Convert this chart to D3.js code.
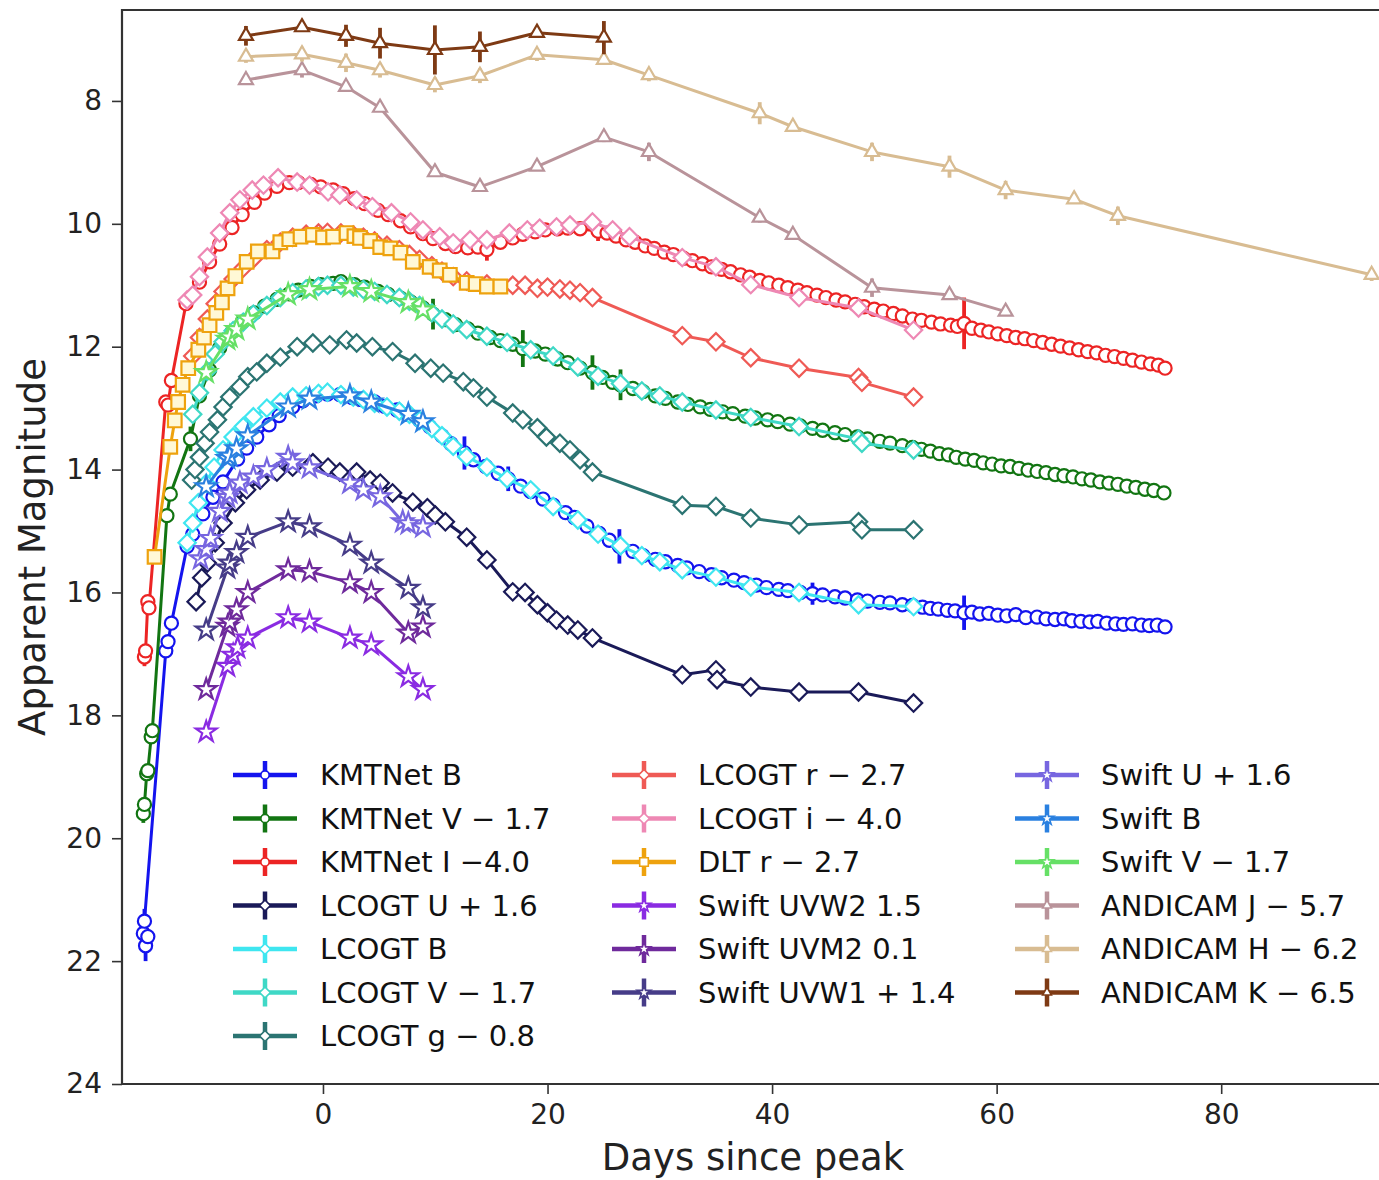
<!DOCTYPE html>
<html>
<head>
<meta charset="utf-8">
<script src="https://cdn.jsdelivr.net/npm/d3@7"></script>
<style>
  body { margin: 0; background: #fff; }
  svg { display: block; font-family: "DejaVu Sans", sans-serif; }
</style>
</head>
<body>
<svg id="chart" width="1379" height="1180"></svg>
<script>
// ---- data: [days since peak, apparent magnitude (shifted), error] ----
var kmtnetB = [[-16.0,21.55,0.12],[-15.8,21.75,0.25],[-15.6,21.6,0.1],[-15.9,21.35,0.2],
  [-14.0,16.95,0.06],[-13.8,16.8,0.05],[-13.5,16.5,0.05],
  [-12.1,15.25,0.05],[-11.6,15.05],[-10.7,14.72],[-9.8,14.45],[-8.9,14.2],[-7.6,13.83],[-6.8,13.65],[-5.9,13.47],[-4.8,13.27],[-3.9,13.12],[-2.7,12.98],[-1.8,12.88],[-0.6,12.8],[0.4,12.77],[1.5,12.78],[2.6,12.83],[3.4,12.86],[4.6,12.9],[5.5,12.97],[6.6,13.03],[7.5,13.1],[8.6,13.2],[9.5,13.3],[10.6,13.45],[11.4,13.58],[12.6,13.73,0.27],[13.4,13.84],[14.5,13.95],[15.6,14.06],[16.5,14.15,0.2],[17.6,14.27],[18.5,14.36],[19.6,14.48],[20.5,14.58],[21.6,14.7],[22.4,14.78],[23.5,14.92],[24.6,15.04],[25.5,15.15],[26.4,15.25,0.28],[27.6,15.33],[28.5,15.4],[29.6,15.46],[30.5,15.5],[31.6,15.56],[32.4,15.6],[33.5,15.66],[34.6,15.71],[35.5,15.76],[36.6,15.8],[37.5,15.84],[38.6,15.88],[39.5,15.92],[40.6,15.95],[41.4,15.97],[42.5,16.0],[43.6,16.02,0.18],[44.5,16.04],[45.6,16.07],[46.5,16.09],[47.6,16.12],[48.5,16.14],[49.6,16.16],[50.5,16.17],[51.6,16.2],[52.5,16.21],[53.4,16.24],[54.1,16.26],[54.8,16.27],[55.6,16.29],[56.3,16.3],[57.1,16.33,0.28],[57.8,16.32],[58.5,16.35],[59.3,16.34],[60.1,16.37],[60.9,16.38],[61.7,16.36],[62.6,16.41],[63.6,16.4],[64.4,16.43],[65.2,16.44],[66.0,16.43],[66.7,16.46],[67.5,16.47],[68.3,16.48],[69.0,16.47],[69.8,16.5],[70.6,16.51],[71.3,16.52],[72.1,16.51],[72.9,16.53],[73.6,16.54],[74.3,16.53],[75.0,16.56]];

var kmtnetV = [[-16.0,19.6,0.15],[-15.9,19.45],[-15.7,18.95,0.06],[-15.6,18.9],[-15.3,18.35],[-15.2,18.25],
  [-13.9,14.75,0.06],[-13.6,14.4],[-11.8,13.5,0.2],
  [-11.0,12.8],[-10.1,12.38],[-9.2,12.02],[-8.1,11.76],[-7.2,11.6],[-6.1,11.45],[-5.2,11.34],[-4.1,11.23],[-3.0,11.14],[-2.2,11.08],[-1.1,11.02],[-0.2,10.99],[0.9,10.97],[1.6,10.94],[2.8,10.99],[3.7,11.03],[4.9,11.1],[5.8,11.15],[6.9,11.21],[7.8,11.27],[8.9,11.37],[9.8,11.47,0.25],[10.9,11.56],[11.8,11.64],[12.9,11.71],[13.8,11.78],[14.9,11.85],[15.8,11.9],[16.9,11.96],[17.8,12.03,0.3],[18.9,12.07],[19.8,12.12],[20.9,12.2],[21.8,12.26],[22.9,12.35],[24.0,12.42,0.28],[24.9,12.5],[25.8,12.58],[26.5,12.62,0.25],[27.6,12.68],[28.5,12.73],[29.6,12.8],[30.5,12.84],[31.6,12.9],[32.5,12.94],[33.6,12.98],[34.5,13.02],[35.6,13.06],[36.5,13.09],[37.6,13.13],[38.5,13.16],[39.6,13.19],[40.5,13.22],[41.6,13.26],[42.5,13.29],[43.6,13.33],[44.5,13.36],[45.6,13.4],[46.5,13.43],[47.6,13.47],[48.5,13.5],[49.6,13.54],[50.5,13.57],[51.6,13.61],[52.5,13.64],[53.3,13.67],[54.1,13.7],[54.9,13.74],[55.7,13.76],[56.4,13.8],[57.2,13.83],[58.0,13.85],[58.8,13.89],[59.6,13.91],[60.4,13.94],[61.2,13.95],[62.0,13.98],[62.8,14.01],[63.6,14.03],[64.4,14.05],[65.2,14.08],[66.0,14.1],[66.8,14.12],[67.6,14.15],[68.4,14.17],[69.2,14.2],[70.0,14.22],[70.8,14.24],[71.6,14.27],[72.4,14.29],[73.2,14.32],[74.0,14.34],[74.9,14.38]];

var kmtnetI = [[-15.9,17.05,0.15],[-15.8,16.95],[-15.6,16.15,0.05],[-15.5,16.25],
  [-14.0,12.9,0.05],[-13.8,12.95],[-13.5,12.55],[-12.2,11.3],
  [-11.0,10.95],[-10.1,10.62],[-9.2,10.33],[-8.1,10.06],[-7.2,9.85],[-6.1,9.65],[-5.2,9.5],[-4.1,9.39],[-3.0,9.33],[-2.2,9.33],[-1.1,9.36],[-0.2,9.4],[0.9,9.45],[1.8,9.51],[2.8,9.59],[3.7,9.67],[4.9,9.78],[5.8,9.85],[6.9,9.95],[7.8,10.05],[8.9,10.16],[9.8,10.24],[10.9,10.32],[11.8,10.37],[12.9,10.39],[13.8,10.38],[14.6,10.42,0.18],[15.8,10.3],[16.9,10.23],[17.8,10.17],[18.9,10.13],[19.8,10.1],[20.9,10.08],[21.8,10.07],[22.9,10.08],[24.5,10.12,0.16],[25.3,10.15],[26.1,10.2],[27.0,10.26],[27.8,10.3],[28.7,10.36],[29.5,10.4],[30.4,10.46],[31.2,10.5],[32.1,10.56],[32.9,10.6],[33.8,10.65],[34.6,10.7],[35.5,10.74],[36.3,10.78],[37.2,10.83],[38.0,10.87],[38.9,10.92],[39.7,10.96],[40.6,11.0],[41.4,11.04],[42.3,11.08],[43.1,11.12],[44.0,11.16],[44.8,11.2],[45.7,11.24],[46.5,11.27],[47.4,11.31],[48.2,11.35],[49.1,11.39],[49.9,11.42],[50.8,11.46],[51.6,11.5],[52.5,11.55],[53.3,11.57],[54.2,11.6],[55.0,11.63],[55.9,11.65],[56.5,11.67],[57.1,11.62,0.42],[57.8,11.7],[58.6,11.73],[59.3,11.76],[60.1,11.79],[60.9,11.82],[61.7,11.85],[62.5,11.87],[63.3,11.9],[64.1,11.93],[64.9,11.96],[65.7,11.99],[66.5,12.02],[67.3,12.05],[68.1,12.08],[68.9,12.1],[69.7,12.14],[70.5,12.16],[71.3,12.19],[72.1,12.22],[72.9,12.25],[73.7,12.28],[74.4,12.3],[75.0,12.35]];

var lcogtU = [[-11.3,16.15],[-10.8,15.76],[-10.3,15.52],[-9.6,15.19],[-8.9,14.87],[-7.8,14.54],[-6.8,14.33],[-5.6,14.17],[-4.1,14.04],[-2.7,13.96],[-0.9,13.89],[0.45,13.96],[1.5,14.04],[3.0,14.04],[4.2,14.17],[5.1,14.22],[6.2,14.38],[8.0,14.53],[9.3,14.62],[10.0,14.74],[10.9,14.85],[12.8,15.1],[14.6,15.47],[16.9,15.99],[18.0,16.0],[19.1,16.2],[20.0,16.33],[20.8,16.45],[21.8,16.53],[22.7,16.61],[24.0,16.74],[32.0,17.34],[35.0,17.26],[35.1,17.42],[38.1,17.54],[42.4,17.62],[47.7,17.62],[52.6,17.8]];

var lcogtB = [[-12.1,15.19],[-11.6,14.87],[-11.1,14.54],[-10.4,14.22],[-9.7,13.96],[-8.9,13.68],[-8.0,13.47],[-7.1,13.3],[-6.2,13.14],[-5.0,13.0],[-3.8,12.9],[-2.7,12.82],[-1.5,12.8],[-0.4,12.76],[0.4,12.74],[1.6,12.78],[2.7,12.82],[3.6,12.86],[4.6,12.92],[5.7,12.98],[6.8,13.05],[7.7,13.1],[8.6,13.2],[9.7,13.33],[10.6,13.45],[11.6,13.62],[12.8,13.79],[14.6,13.96],[16.4,14.15],[18.5,14.33],[20.5,14.6],[22.7,14.82],[24.5,15.05],[26.5,15.24],[28.4,15.4],[30.0,15.5],[32.0,15.63],[35.0,15.75],[38.1,15.91],[42.4,16.0],[47.7,16.2],[52.6,16.23]];

var lcogtV = [[-11.6,13.1],[-11.0,12.75],[-10.3,12.4],[-9.6,12.12],[-8.9,11.92],[-8.0,11.74],[-7.1,11.6],[-6.2,11.47],[-5.0,11.33],[-3.8,11.2],[-2.7,11.12],[-1.5,11.06],[-0.4,11.02],[0.4,11.0],[1.6,11.0],[2.7,11.03],[3.6,11.07],[4.6,11.1],[5.7,11.15],[6.8,11.2],[7.7,11.26],[8.6,11.33],[9.7,11.45],[10.6,11.55],[11.6,11.63],[12.8,11.72],[14.6,11.83],[16.4,11.93],[18.5,12.05],[20.5,12.15],[22.7,12.33],[24.5,12.48],[26.5,12.6],[28.4,12.72],[30.0,12.8],[32.0,12.9],[35.0,13.03],[38.1,13.15],[42.4,13.3],[47.7,13.5],[48.0,13.57],[52.6,13.68]];

var lcogtG = [[-11.7,14.17],[-11.4,14.0],[-11.0,13.8],[-10.5,13.57],[-10.1,13.39],[-9.4,13.19],[-8.9,12.98],[-8.3,12.82],[-7.4,12.65],[-6.7,12.49],[-5.9,12.41],[-5.0,12.27],[-3.8,12.17],[-2.3,12.0],[-0.9,11.94],[0.6,11.97],[2.1,11.89],[3.0,11.94],[4.4,12.0],[6.2,12.08],[8.2,12.27],[9.6,12.35],[10.7,12.43],[12.5,12.57],[13.4,12.67],[14.6,12.82],[16.9,13.08],[17.8,13.19],[19.1,13.32],[19.9,13.47],[21.1,13.57],[22.0,13.68],[22.9,13.84],[24.0,14.04],[32.0,14.58],[35.0,14.6],[38.1,14.79],[42.4,14.9],[47.7,14.85],[48.0,14.98],[52.6,14.98]];

var lcogtR = [[-11.6,12.15],[-11.0,11.85],[-10.3,11.55],[-9.6,11.3],[-8.9,11.1],[-8.0,10.9],[-7.1,10.72],[-6.2,10.57],[-5.0,10.42],[-3.8,10.3],[-2.7,10.22],[-1.5,10.17],[-0.4,10.15],[0.4,10.14],[1.6,10.15],[2.7,10.18],[3.6,10.22],[4.6,10.28],[5.7,10.35],[6.8,10.42],[7.7,10.5],[8.6,10.58],[9.7,10.68],[10.6,10.77],[11.6,10.86],[12.8,10.93],[14.6,10.98],[16.9,11.0],[18.0,11.0],[19.1,11.05],[20.0,11.03],[21.1,11.06],[22.0,11.08],[22.9,11.12],[24.0,11.2],[32.0,11.82],[35.0,11.92],[38.1,12.18],[42.4,12.35],[47.7,12.5],[48.0,12.58],[52.6,12.82]];

var lcogtI = [[-12.1,11.24],[-11.6,11.16],[-11.0,10.86],[-10.3,10.54],[-9.2,10.15],[-8.3,9.82],[-7.4,9.61],[-6.3,9.45],[-5.3,9.37],[-4.0,9.25],[-2.3,9.32],[-1.2,9.37],[0.45,9.48],[1.5,9.53],[3.0,9.61],[4.4,9.72],[6.1,9.82],[7.8,9.97],[8.9,10.1],[10.4,10.21],[11.6,10.31],[13.1,10.26],[14.6,10.26],[16.6,10.15],[18.2,10.1],[19.3,10.07],[20.8,10.05],[22.0,10.02],[24.0,9.97],[25.8,10.1],[27.3,10.21],[32.0,10.55],[35.0,10.7],[38.1,10.99],[42.4,11.2],[47.7,11.37],[52.6,11.73]];

var dltR = [[-15.0,15.42],[-13.6,13.63],[-13.2,13.2],[-12.9,12.9],[-12.5,12.62],[-12.0,12.35],[-11.1,12.05],[-10.6,11.85],[-10.1,11.65],[-9.5,11.45],[-9.0,11.28],[-8.5,11.05],[-7.8,10.85],[-6.8,10.62],[-5.8,10.45],[-4.5,10.45],[-3.8,10.3],[-3.0,10.25],[-2.0,10.21],[-0.9,10.18],[0.0,10.22],[0.9,10.21],[2.1,10.15],[2.8,10.2],[3.3,10.23],[4.2,10.28],[5.1,10.38],[6.0,10.4],[6.9,10.47],[8.0,10.62],[9.5,10.7],[10.4,10.76],[11.3,10.83],[12.8,10.96],[13.6,10.98],[14.6,11.02],[15.8,11.02]];

var swiftUVW2 = [[-10.4,18.27],[-8.5,17.2],[-8.0,17.02],[-7.6,16.9],[-6.7,16.74],[-3.1,16.41],[-1.2,16.48],[2.4,16.74],[4.3,16.85],[7.6,17.37],[8.9,17.58]];
var swiftUVM2 = [[-10.4,17.58],[-8.5,16.55],[-8.3,16.48],[-7.7,16.28],[-6.7,16.0],[-3.1,15.63],[-1.2,15.66],[2.4,15.84],[4.3,16.0],[7.6,16.66],[8.9,16.56]];
var swiftUVW1 = [[-10.4,16.61],[-8.5,15.6],[-8.3,15.52],[-7.7,15.35],[-6.7,15.1],[-3.1,14.85],[-1.2,14.93],[2.4,15.23],[4.3,15.52],[7.6,15.93],[8.9,16.25]];
var swiftU = [[-10.9,15.45],[-10.4,15.3],[-10.0,15.12],[-9.2,14.68],[-8.5,14.45],[-8.3,14.38],[-7.4,14.22],[-6.2,14.12],[-5.0,14.0],[-3.1,13.8],[-2.7,13.89],[-1.2,13.97],[2.4,14.22],[3.6,14.33],[5.1,14.44],[7.1,14.85],[7.6,14.88],[8.9,14.93]];
var swiftB = [[-10.4,14.28],[-8.5,13.82],[-8.3,13.78],[-7.7,13.66],[-6.7,13.45],[-3.1,12.98],[-1.2,12.85],[2.4,12.8],[4.3,12.9],[7.6,13.1],[8.9,13.22]];
var swiftV = [[-10.4,12.42],[-8.5,11.88],[-8.3,11.84],[-7.7,11.72],[-6.7,11.55],[-3.1,11.15],[-1.2,11.07],[2.4,11.02],[4.3,11.1],[7.6,11.28],[8.9,11.4]];

var andicamJ = [[-6.86,7.66,0.05],[-1.87,7.5,0.12],[2.05,7.77,0.05],[5.08,8.11,0.05],[9.97,9.16,0.05],[13.98,9.4,0.05],[19.06,9.07,0.06],[25.02,8.59,0.08],[29.03,8.83,0.15],[38.9,9.9,0.08],[41.85,10.18,0.06],[48.9,11.04,0.15],[55.8,11.16,0.08],[60.8,11.43,0.05]];
var andicamH = [[-6.86,7.28,0.1],[-1.87,7.24,0.12],[2.05,7.38,0.15],[5.08,7.5,0.12],[9.97,7.74,0.12],[13.98,7.59,0.12],[19.06,7.25,0.1],[25.02,7.33,0.08],[29.03,7.58,0.1],[38.9,8.2,0.18],[41.85,8.42,0.06],[48.9,8.83,0.15],[55.8,9.07,0.18],[60.8,9.45,0.15],[66.9,9.6,0.06],[70.8,9.87,0.15],[93.4,10.83,0.1]];
var andicamK = [[-6.86,6.94,0.16],[-1.87,6.8,0.05],[2.05,6.94,0.18],[5.08,7.06,0.25],[9.97,7.17,0.4],[13.98,7.12,0.25],[19.06,6.89,0.05],[25.02,6.97,0.27]];

var seriesLabels = ["KMTNet B", "KMTNet V \u2212 1.7", "KMTNet I \u22124.0", "LCOGT U + 1.6", "LCOGT B",
  "LCOGT V \u2212 1.7", "LCOGT g \u2212 0.8", "LCOGT r \u2212 2.7", "LCOGT i \u2212 4.0", "DLT r \u2212 2.7",
  "Swift UVW2 1.5", "Swift UVM2 0.1", "Swift UVW1 + 1.4", "Swift U + 1.6", "Swift B", "Swift V \u2212 1.7",
  "ANDICAM J \u2212 5.7", "ANDICAM H \u2212 6.2", "ANDICAM K \u2212 6.5"];
var seriesData = [kmtnetB, kmtnetV, kmtnetI, lcogtU, lcogtB, lcogtV, lcogtG, lcogtR, lcogtI, dltR,
  swiftUVW2, swiftUVM2, swiftUVW1, swiftU, swiftB, swiftV, andicamJ, andicamH, andicamK];
var xTicks = [0, 20, 40, 60, 80];
var yTicks = [8, 10, 12, 14, 16, 18, 20, 22, 24];

// ---- styles ----
var colors = ["#1414ee", "#127512", "#ec2424", "#1a1a58", "#3fe6f0", "#3fd8c6", "#2b7472", "#ef5a55", "#ee88b4", "#eea20e",
  "#8a2be2", "#6f2a9c", "#463c88", "#7766e0", "#2a80e0", "#66e066", "#b9939a", "#d8bc92", "#7e3a14"];
var markers = ["o", "o", "o", "D", "D", "D", "D", "D", "D", "s", "*", "*", "*", "*", "*", "*", "^", "^", "^"];

var svg = d3.select("#chart");

var x = d3.scaleLinear().domain([-17.9, 94.5]).range([122, 1384]);
var y = d3.scaleLinear().domain([6.52, 24]).range([10, 1084]);

svg.append("defs").append("clipPath").attr("id", "clip")
  .append("rect").attr("x", 122).attr("y", 10).attr("width", 1262).attr("height", 1074);

function symbolPath(m, scale) {
  var s = d3.symbol();
  if (m == "o") s.type(d3.symbolCircle).size(135 * scale);
  else if (m == "D") s.type(d3.symbolSquare).size(150 * scale);
  else if (m == "s") s.type(d3.symbolSquare).size(185 * scale);
  else if (m == "*") s.type(d3.symbolStar).size(135 * scale);
  else s.type(d3.symbolTriangle).size(85 * scale);
  return s();
}

var plot = svg.append("g").attr("clip-path", "url(#clip)");
var line = d3.line().x(function(d) { return x(d[0]); }).y(function(d) { return y(d[1]); });

seriesData.forEach(function(data, i) {
  var g = plot.append("g");
  var c = colors[i];
  g.append("path").datum(data).attr("d", line)
    .attr("fill", "none").attr("stroke", c).attr("stroke-width", 3)
    .attr("stroke-linejoin", "round");
  g.selectAll("line.err").data(data.filter(function(d) { return d[2]; }))
    .enter().append("line")
    .attr("x1", function(d) { return x(d[0]); })
    .attr("x2", function(d) { return x(d[0]); })
    .attr("y1", function(d) { return y(d[1] - d[2]); })
    .attr("y2", function(d) { return y(d[1] + d[2]); })
    .attr("stroke", c).attr("stroke-width", 3.8);
  g.selectAll("path.mk").data(data).enter().append("path")
    .attr("d", symbolPath(markers[i], 1))
    .attr("transform", function(d) {
      return "translate(" + x(d[0]) + "," + y(d[1]) + ")" + (markers[i] == "D" ? " rotate(45)" : "");
    })
    .attr("fill", markers[i] == "s" ? "#fff8d6" : "#fff")
    .attr("stroke", c).attr("stroke-width", 2.2);
});

// axes
var yAxis = svg.append("g").attr("transform", "translate(122,0)")
  .call(d3.axisLeft(y).tickValues(yTicks).tickSize(10).tickPadding(10));
var xAxis = svg.append("g").attr("transform", "translate(0,1084)")
  .call(d3.axisBottom(x).tickValues(xTicks).tickSize(10).tickPadding(10));
[xAxis, yAxis].forEach(function(a) {
  a.select(".domain").remove();
  a.selectAll(".tick line").attr("stroke", "#333").attr("stroke-width", 1.6);
  a.selectAll(".tick text").attr("font-size", 28).attr("fill", "#222")
    .attr("font-family", "DejaVu Sans");
});

// frame
svg.append("path").attr("d", "M1390,10 H122 V1084 H1390")
  .attr("fill", "none").attr("stroke", "#333").attr("stroke-width", 2.2);

svg.append("text").attr("x", 753).attr("y", 1170).attr("text-anchor", "middle")
  .attr("font-size", 37).attr("fill", "#222").text("Days since peak");
svg.append("text").attr("transform", "translate(45,547) rotate(-90)").attr("text-anchor", "middle")
  .attr("font-size", 37).attr("fill", "#222").text("Apparent Magnitude");

// legend
var colHandle = [265, 644, 1047], colText = [320, 698, 1101], colStart = [0, 7, 13], colCount = [7, 6, 6];
var legend = svg.append("g");
colStart.forEach(function(start, ci) {
  d3.range(colCount[ci]).forEach(function(r) {
    var i = start + r, cy = 775 + r * 43.5, cx = colHandle[ci], c = colors[i];
    var lg = legend.append("g");
    lg.append("line").attr("x1", cx - 32).attr("x2", cx + 32).attr("y1", cy).attr("y2", cy)
      .attr("stroke", c).attr("stroke-width", 4.5);
    lg.append("line").attr("x1", cx).attr("x2", cx).attr("y1", cy - 14).attr("y2", cy + 14)
      .attr("stroke", c).attr("stroke-width", 4.5);
    lg.append("path").attr("d", symbolPath(markers[i], 0.4))
      .attr("transform", "translate(" + cx + "," + cy + ")" + (markers[i] == "D" ? " rotate(45)" : ""))
      .attr("fill", "#fff").attr("stroke", c).attr("stroke-width", 1.6);
    lg.append("text").attr("x", colText[ci]).attr("y", cy).attr("dy", "0.36em")
      .attr("font-size", 29).attr("fill", "#111").text(seriesLabels[i]);
  });
});
</script>
</body>
</html>
